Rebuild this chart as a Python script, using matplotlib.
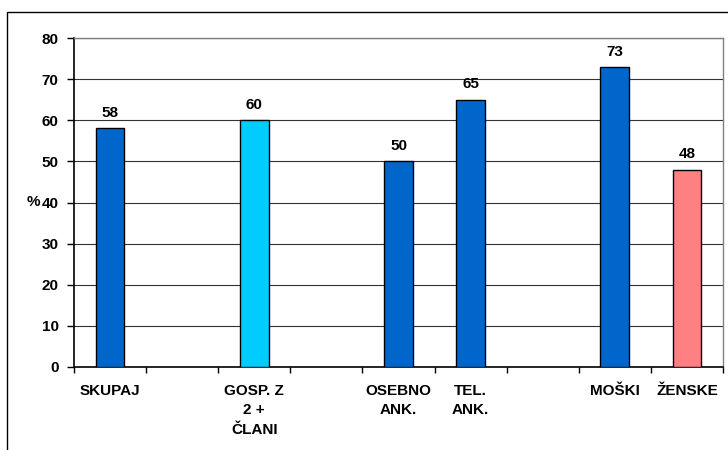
import numpy as np
import matplotlib.pyplot as plt
from matplotlib.patches import Rectangle

categories = ["SKUPAJ", "", "GOSP. Z\n2 +\nČLANI", "", "OSEBNO\nANK.", "TEL.\nANK.", "", "MOŠKI", "ŽENSKE"]
values = [58, None, 60, None, 50, 65, None, 73, 48]
colors = ["#0066CC", None, "#00CCFF", None, "#0066CC", "#0066CC", None, "#0066CC", "#FF8080"]

plt.rcParams['font.family'] = ['Liberation Sans', 'DejaVu Sans']
plt.rcParams['font.weight'] = 'bold'
fs = 11

fig = plt.figure(figsize=(7.28, 4.5), dpi=100)
ax = fig.add_axes([74 / 728, 1 - 367 / 450, 649 / 728, 329 / 450])

x = np.arange(len(categories))
for i, (v, c) in enumerate(zip(values, colors)):
    if v is None:
        continue
    ax.bar(x[i], v, width=0.4, color=c, edgecolor='black', linewidth=1, zorder=3)
    ax.text(x[i], v + 2, str(v), ha='center', va='bottom', fontsize=fs, fontweight='bold')

ax.set_xlim(-0.5, len(categories) - 0.5)
ax.set_ylim(0, 80)
ax.set_yticks(np.arange(0, 81, 10))
ax.yaxis.grid(True, color='#333333', linewidth=0.8, zorder=0)

# category labels at slot centres, tick marks at slot boundaries
ax.set_xticks(np.arange(-0.5, len(categories), 1.0))
ax.set_xticklabels([])
ax.set_xticks(x, minor=True)
ax.set_xticklabels(categories, minor=True, fontsize=fs, fontweight='bold', linespacing=1.5)
ax.tick_params(axis='x', which='minor', length=0, pad=12)
ax.tick_params(axis='x', which='major', length=4, width=1, direction='out')
ax.tick_params(axis='y', length=5, width=1, direction='out', labelsize=fs, pad=6)
for lab in ax.get_yticklabels():
    lab.set_fontweight('bold')
for lab in ax.get_xticklabels(minor=True):
    lab.set_verticalalignment('top')

for side in ['top', 'right']:
    ax.spines[side].set_color('#808080')
    ax.spines[side].set_linewidth(1)
for side in ['left', 'bottom']:
    ax.spines[side].set_color('black')
    ax.spines[side].set_linewidth(1.2)

fig.text(33 / 728, 1 - 202 / 450, "%", ha='center', va='center', fontsize=fs, fontweight='bold')

# chart area border
fig.patches.append(Rectangle((7 / 728, -0.1), 1.1, 1.1 - 12 / 450,
                             transform=fig.transFigure, fill=False,
                             edgecolor='black', linewidth=1))

fig.savefig("out.png", dpi=100)
